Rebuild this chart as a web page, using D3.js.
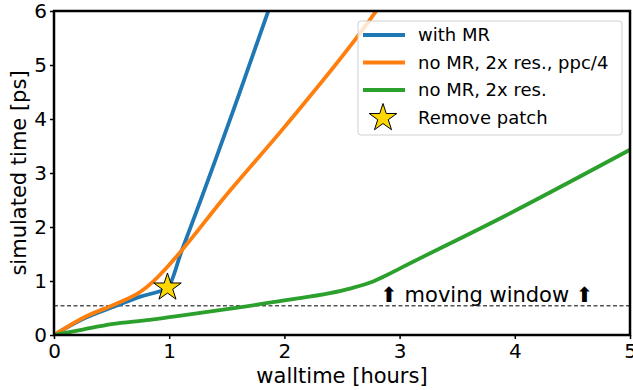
<!DOCTYPE html>
<html>
<head>
<meta charset="utf-8">
<script src="https://cdn.jsdelivr.net/npm/d3@7"></script>
<style>
  body { margin: 0; background: #fff; }
  svg { font-family: "DejaVu Sans", sans-serif; }
</style>
</head>
<body>
<svg id="chart"></svg>
<script>
const width = 633;
const height = 390;
const margin = {top: 11, right: 3, bottom: 55, left: 54};

// walltime [hours] / simulated time [ps]
const mrTime = [0, 0.255, 0.54, 0.75, 0.905, 0.98, 1.11, 1.61, 1.87];
const mrSim = [0, 0.3, 0.54, 0.71, 0.8, 0.85, 1.57, 4.48, 6.06];

const ppcTime = [0, 0.255, 0.54, 0.75, 0.86, 1.0, 1.11, 1.46, 2.0, 2.74, 2.83];
const ppcSim = [0, 0.32, 0.58, 0.8, 0.99, 1.3, 1.57, 2.5, 3.85, 5.83, 6.1];

const resTime = [0, 0.25, 0.5, 0.83, 1.0, 1.27, 1.5, 2.0, 2.57, 2.77, 2.89, 3.0, 3.91, 5.0];
const resSim = [0, 0.1, 0.2, 0.28, 0.33, 0.41, 0.48, 0.64, 0.86, 0.99, 1.11, 1.23, 2.2, 3.43];

const patchTime = [0.985];
const patchSim = [0.88];

const windowSim = 0.54;

const xTicks = [0, 1, 2, 3, 4, 5];
const yTicks = [0, 1, 2, 3, 4, 5, 6];

const seriesNames = ['with MR', 'no MR, 2x res., ppc/4', 'no MR, 2x res.'];
const colors = ['#1f77b4', '#ff7f0e', '#2ca02c'];

const svg = d3.select('#chart')
    .attr('width', width)
    .attr('height', height);

const x = d3.scaleLinear().domain([0, 5]).range([margin.left, width - margin.right]);
const y = d3.scaleLinear().domain([0, 6]).range([height - margin.bottom, margin.top]);

svg.append('clipPath').attr('id', 'clip')
    .append('rect')
    .attr('x', x(0)).attr('y', y(6))
    .attr('width', x(5) - x(0)).attr('height', y(0) - y(6));

const plot = svg.append('g').attr('clip-path', 'url(#clip)');

// moving window line
plot.append('line')
    .attr('x1', x(0)).attr('x2', x(5))
    .attr('y1', y(windowSim)).attr('y2', y(windowSim))
    .attr('stroke', '#000')
    .attr('stroke-width', 1)
    .attr('stroke-dasharray', '4,2.5');

const series = [
    {t: mrTime, s: mrSim},
    {t: ppcTime, s: ppcSim},
    {t: resTime, s: resSim}
];

const line = d3.line()
    .x(d => x(d[0]))
    .y(d => y(d[1]))
    .curve(d3.curveMonotoneX);

series.forEach((d, i) => {
    plot.append('path')
        .datum(d.t.map((v, j) => [v, d.s[j]]))
        .attr('fill', 'none')
        .attr('stroke', colors[i])
        .attr('stroke-width', 3.8)
        .attr('stroke-linejoin', 'round')
        .attr('d', line);
});

const star = d3.symbol().type(d3.symbolStar).size(236);

plot.selectAll('.patch').data(patchTime).enter().append('path')
    .attr('class', 'patch')
    .attr('transform', (d, i) => `translate(${x(d)},${y(patchSim[i])})`)
    .attr('d', star)
    .attr('fill', '#ffd700')
    .attr('stroke', '#000')
    .attr('stroke-width', 1);

svg.append('text')
    .attr('x', x(2.85) - 2)
    .attr('y', y(windowSim) - 4)
    .attr('font-size', 21)
    .text('\u2B06 moving window \u2B06');

// axes
const xAxis = svg.append('g')
    .attr('transform', `translate(0, ${y(0)})`)
    .call(d3.axisBottom(x).tickValues(xTicks).tickFormat(d3.format('d')).tickSize(4).tickPadding(3));

const yAxis = svg.append('g')
    .attr('transform', `translate(${x(0)}, 0)`)
    .call(d3.axisLeft(y).tickValues(yTicks).tickFormat(d3.format('d')).tickSize(4).tickPadding(3));

[xAxis, yAxis].forEach(a => {
    a.select('.domain').remove();
    a.selectAll('.tick line').attr('stroke-width', 1.5);
    a.selectAll('.tick text').attr('font-size', 20).attr('font-family', 'DejaVu Sans').attr('fill', '#000');
});
xAxis.selectAll('.tick text').attr('dy', '0.78em');

svg.append('rect')
    .attr('x', x(0)).attr('y', y(6))
    .attr('width', x(5) - x(0)).attr('height', y(0) - y(6))
    .attr('fill', 'none')
    .attr('stroke', '#000')
    .attr('stroke-width', 2.5);

svg.append('text')
    .attr('x', (x(0) + x(5)) / 2)
    .attr('y', 383)
    .attr('text-anchor', 'middle')
    .attr('font-size', 21)
    .text('walltime [hours]');

svg.append('text')
    .attr('transform', `translate(26, ${(y(0) + y(6)) / 2}) rotate(-90)`)
    .attr('text-anchor', 'middle')
    .attr('font-size', 21)
    .text('simulated time [ps]');

// legend
const legend = svg.append('g').attr('transform', 'translate(358, 21)');
legend.append('rect')
    .attr('width', 264).attr('height', 114)
    .attr('rx', 3)
    .attr('fill', '#fff').attr('fill-opacity', 0.8)
    .attr('stroke', '#d0d0d0').attr('stroke-width', 1);

const rowY = [14, 41.5, 69, 97];
seriesNames.forEach((name, i) => {
    legend.append('line')
        .attr('x1', 5).attr('x2', 47)
        .attr('y1', rowY[i]).attr('y2', rowY[i])
        .attr('stroke', colors[i]).attr('stroke-width', 3.8);
    legend.append('text')
        .attr('x', 60).attr('y', rowY[i])
        .attr('dy', '0.35em')
        .attr('font-size', 18)
        .text(name);
});
legend.append('path')
    .attr('transform', `translate(25, ${rowY[3]})`)
    .attr('d', star)
    .attr('fill', '#ffd700')
    .attr('stroke', '#000')
    .attr('stroke-width', 1);
legend.append('text')
    .attr('x', 60).attr('y', rowY[3])
    .attr('dy', '0.35em')
    .attr('font-size', 18)
    .text('Remove patch');
</script>
</body>
</html>
